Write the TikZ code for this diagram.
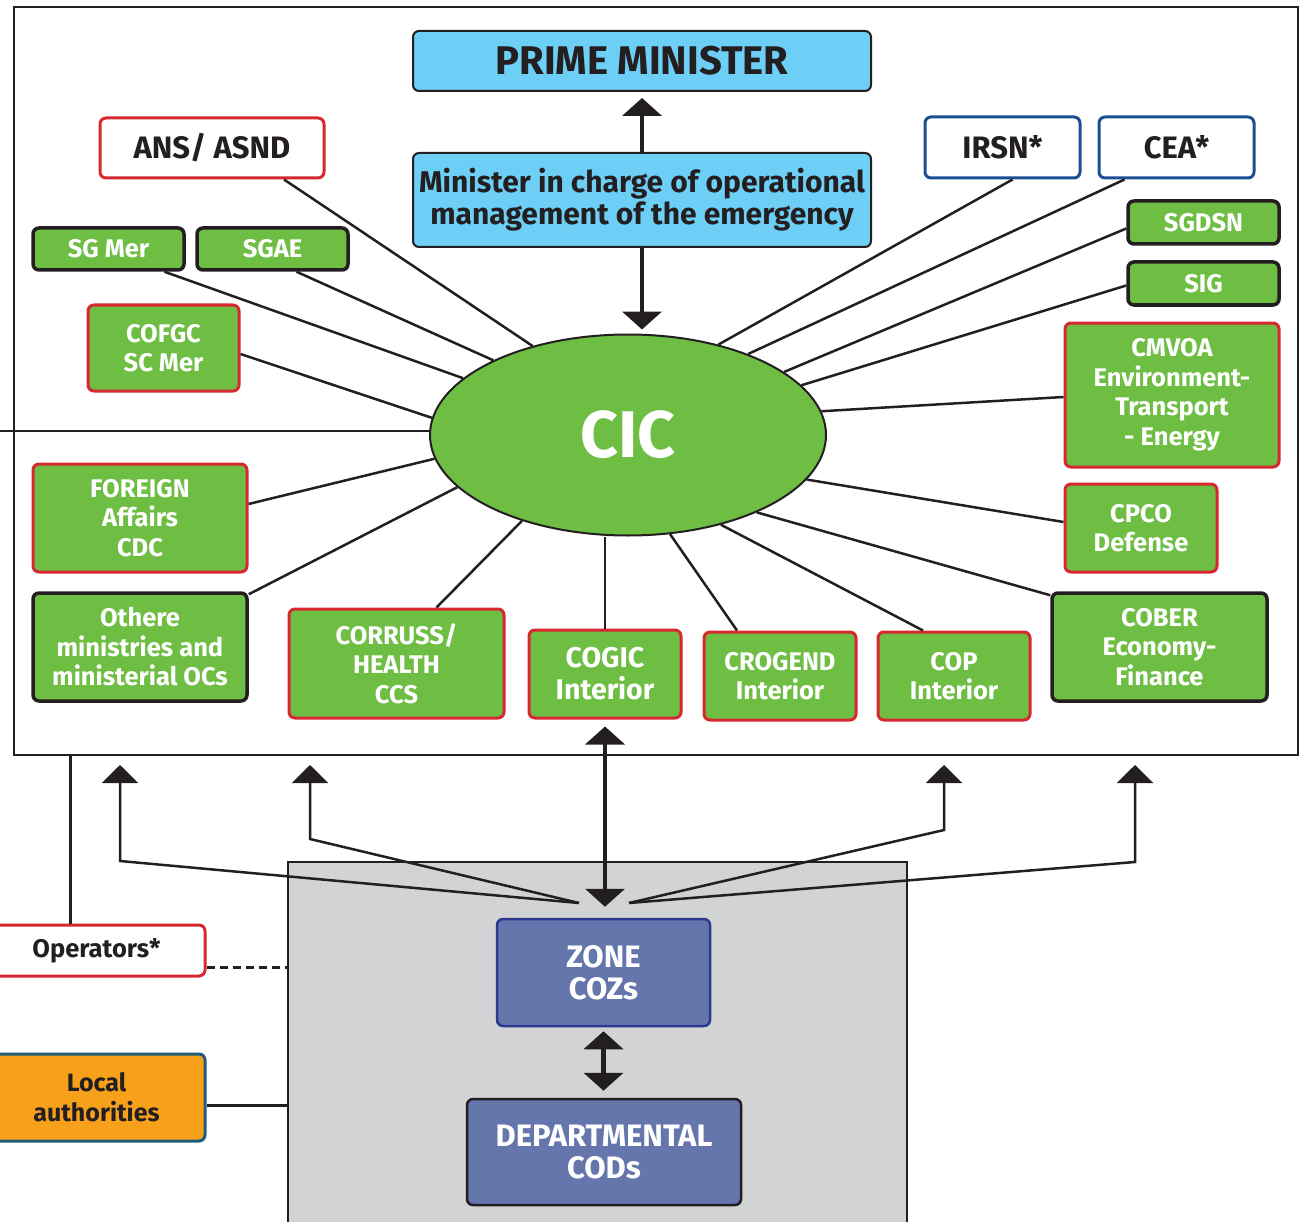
\documentclass[tikz,border=0pt]{standalone}
\usepackage{fontspec}
\setmainfont{Fira Sans}
\usetikzlibrary{positioning, fit, arrows.meta, shapes.geometric}

\definecolor{pmblue}{HTML}{6DCFF6}
\definecolor{cicgreen}{HTML}{6FBE44}
\definecolor{linkred}{HTML}{D7282F}
\definecolor{linkblue}{HTML}{1B4F93}
\definecolor{zoneblue}{HTML}{6576AD}
\definecolor{zoneborder}{HTML}{2B3990}
\definecolor{zonegray}{HTML}{D1D3D4}
\definecolor{localorange}{HTML}{F7A11A}
\definecolor{localborder}{HTML}{1D5D79}
\definecolor{inkdark}{HTML}{231F20}

\newcommand{\fsz}[2]{\fontsize{#1}{#2}\selectfont\bfseries}

\begin{document}
\begin{tikzpicture}[
    x=1pt, y=-1pt,
    every node/.style={inner sep=0pt, align=center, text=inkdark},
    boxsize/.style 2 args={minimum width=#1pt, minimum height=#2pt},
    box/.style={rectangle, rounded corners=6pt, line width=3pt},
    pmbox/.style={box, draw=inkdark, line width=2pt, fill=pmblue},
    redgreen/.style={box, draw=linkred, fill=cicgreen, text=white, font=\fsz{25.5}{29.5}},
    blackgreen/.style={box, draw=inkdark, line width=3.5pt, fill=cicgreen, text=white, font=\fsz{25.5}{29.5}},
    whitered/.style={box, draw=linkred, fill=white, font=\fsz{31}{34}},
    whiteblue/.style={box, draw=linkblue, fill=white, font=\fsz{31}{34}},
    zonebox/.style={box, line width=2.5pt, fill=zoneblue, text=white},
    spoke/.style={line width=2.5pt, draw=inkdark},
    bigarrow/.style={line width=4.5pt, draw=inkdark, {Triangle[width=39pt, length=18pt]}-{Triangle[width=39pt, length=18pt]}},
    uparrow/.style={line width=4.5pt, draw=inkdark, -{Triangle[width=39pt, length=18pt]}},
    fanarrow/.style={line width=2.5pt, draw=inkdark, -{Triangle[width=36pt, length=18pt]}}
]
\clip (0,0) rectangle (1305,1222);

% Outer frame and lower zone
\node[draw=inkdark, line width=2pt, boxsize={1284}{748}] (frame) at (656,381) {};
\node[draw=inkdark, line width=2pt, fill=zonegray, boxsize={619}{378}] (grayzone) at (597.5,1051) {};

% Government level
\node[pmbox, boxsize={458}{60}, font=\fsz{40}{42}] (pm) at (642,61) {PRIME MINISTER};
\node[pmbox, boxsize={458}{94}, font=\fsz{30}{32}] (mincharge) at (642,200) {Minister in charge of operational\\management of the emergency};
\node[ellipse, draw=inkdark, line width=2pt, fill=cicgreen, boxsize={396}{201}, text=white, font=\fsz{66}{70}] (cic) at (628,435) {CIC};

% Left partners
\node[whitered, boxsize={224}{60}] (ans) at (212,148) {ANS/ ASND};
\node[blackgreen, boxsize={151}{42}] (sgmer) at (108.5,249) {SG Mer};
\node[blackgreen, boxsize={151}{42}] (sgae) at (272.5,249) {SGAE};
\node[redgreen, boxsize={151}{86}] (cofgc) at (163.5,348) {COFGC\\SC Mer};
\node[redgreen, boxsize={214}{108}] (foreign) at (140,518) {FOREIGN\\Affairs\\CDC};
\node[blackgreen, boxsize={214}{108}] (othere) at (140,647) {Othere\\ministries and\\ministerial OCs};

% Bottom row
\node[redgreen, boxsize={215}{109}] (corruss) at (396.5,663.5) {CORRUSS/\\HEALTH\\CCS};
\node[redgreen, boxsize={152}{88}, font=\fsz{28.5}{32}] (cogic) at (605,674) {COGIC\\Interior};
\node[redgreen, boxsize={152}{88}] (crogend) at (780,676) {CROGEND\\Interior};
\node[redgreen, boxsize={152}{88}] (cop) at (954,676) {COP\\Interior};
\node[blackgreen, boxsize={215}{108}] (cober) at (1159.5,647) {COBER\\Economy-\\Finance};

% Right partners
\node[whiteblue, boxsize={155}{61}] (irsn) at (1002.5,147.5) {IRSN*};
\node[whiteblue, boxsize={155}{61}] (cea) at (1176.5,147.5) {CEA*};
\node[blackgreen, boxsize={151}{43}] (sgdsn) at (1203.5,222.5) {SGDSN};
\node[blackgreen, boxsize={151}{43}] (sig) at (1203.5,283.5) {SIG};
\node[redgreen, boxsize={214}{144}] (cmvoa) at (1172,395) {CMVOA\\Environment-\\Transport\\- Energy};
\node[redgreen, boxsize={152}{88}] (cpco) at (1141,528) {CPCO\\Defense};

% Territorial level
\node[zonebox, draw=zoneborder, boxsize={213}{107}, font=\fsz{31}{32}] (zone) at (603.5,972.5) {ZONE\\COZs};
\node[zonebox, draw=inkdark, boxsize={274}{106}, font=\fsz{31}{32}] (dept) at (604,1152) {DEPARTMENTAL\\CODs};
\node[box, draw=linkred, fill=white, boxsize={217}{51}, font=\fsz{25.5}{28}] (operators) at (96.5,950.5) {Operators*};
\node[box, draw=localborder, fill=localorange, boxsize={217}{87}, font=\fsz{25}{30}] (localauth) at (96.5,1097.5) {Local\\authorities};

% Arrows between levels
\draw[uparrow, shorten >=6pt] (mincharge.north) -- (pm.south);
\draw[uparrow, shorten >=4pt] (mincharge.south) -- (mincharge.south |- cic.north);
\draw[bigarrow, shorten <=7pt, shorten >=11pt] (cogic.south) -- (cogic.south |- zone.north);
\draw[bigarrow, shorten <=4pt, shorten >=7pt] (zone.south) -- (zone.south |- dept.north);

% Spokes around CIC
\draw[spoke] ([xshift=72pt]ans.south) -- (cic.137);
\draw[spoke] ([xshift=24pt]sgae.south) -- (cic.151);
\draw[spoke] ([xshift=56pt]sgmer.south) -- (cic.161);
\draw[spoke] ([yshift=-6pt]cofgc.east) -- (cic.175);
\draw[spoke] ([yshift=14pt]foreign.east) -- (cic.187);
\draw[spoke] ([yshift=-3pt]othere.north east) -- (cic.197);
\draw[spoke] ([xshift=40pt]corruss.north) -- (cic.219);
\draw[spoke] (cogic.north) -- (cogic.north |- cic.south);
\draw[spoke] ([xshift=-43pt]crogend.north) -- (cic.293);
\draw[spoke] ([xshift=-31pt]cop.north) -- (cic.316);
\draw[spoke] ([yshift=-4pt]cober.north west) -- (cic.329);
\draw[spoke] ([yshift=6pt]cpco.west) -- (cic.346);
\draw[spoke] ([yshift=-2pt]cmvoa.west) -- (cic.7);
\draw[spoke] ([yshift=-2pt]sig.west) -- (cic.16);
\draw[spoke] ([yshift=-6pt]sgdsn.west) -- (cic.22);
\draw[spoke] ([xshift=-52pt]cea.south) -- (cic.34);
\draw[spoke] ([xshift=10pt]irsn.south) -- (cic.45);
\coordinate (leftedge) at (0,431);
\draw[spoke] (leftedge) -- (leftedge -| cic.west);

% Fan of arrows from the zone
\coordinate (fanL) at (579,903);
\coordinate (fanR) at (629,903);
\coordinate (upA) at (120,765);
\coordinate (upB) at (310,765);
\coordinate (upC) at (944,765);
\coordinate (upD) at (1135,765);
\draw[fanarrow] (fanL) -- (upA |- 0,861) -- (upA);
\draw[fanarrow] (fanL) -- (upB |- 0,839) -- (upB);
\draw[fanarrow] (fanR) -- (upC |- 0,830) -- (upC);
\draw[fanarrow] (fanR) -- (upD |- 0,862) -- (upD);

% Operators and local authorities
\draw[spoke] ([xshift=-26pt]operators.north) -- ([xshift=-26pt]operators.north |- frame.south);
\draw[spoke, dash pattern=on 8pt off 5pt] ([yshift=-17pt]operators.east) -- ([yshift=-17pt]operators.east -| grayzone.west);
\draw[spoke] ([yshift=-8pt]localauth.east) -- ([yshift=-8pt]localauth.east -| grayzone.west);

\end{tikzpicture}
\end{document}
